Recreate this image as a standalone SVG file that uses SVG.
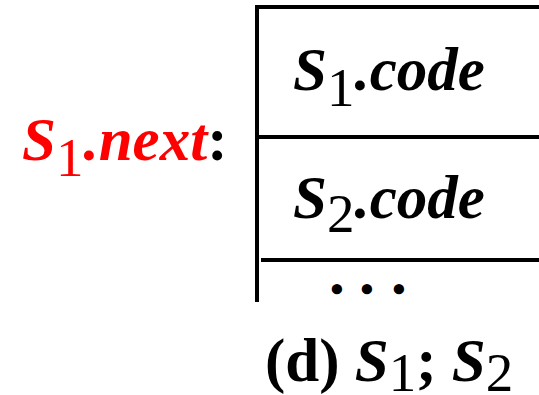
<svg xmlns="http://www.w3.org/2000/svg" width="539" height="395" viewBox="0 0 539 395">
<style>
text{font-family:'Liberation Serif','Times New Roman',Times,'DejaVu Serif',serif;font-weight:700;font-size:61px;fill:#000}
.i{font-style:italic}
.s{font-style:normal;font-weight:400;font-size:55px}
.r{fill:#ff0000}
.d{font-size:38px}
.ln{stroke:#000;stroke-width:4;fill:none}
</style>
<rect width="539" height="395" fill="#fff"/>
<g id="connectors">
<path class="ln" d="M257,5 V302"/>
<path class="ln" d="M257,7 H539"/>
<path class="ln" d="M257,137 H539"/>
<path class="ln" d="M261,260 H539"/>
</g>
<g id="label-next">
<text class="r" x="22" y="160"><tspan class="i">S</tspan><tspan class="s" dy="16">1</tspan><tspan class="i" dy="-16">.next</tspan><tspan fill="#000">:</tspan></text>
</g>
<g id="cell1">
<text x="293" y="90"><tspan class="i">S</tspan><tspan class="s" dy="16">1</tspan><tspan class="i" dy="-16">.code</tspan></text>
</g>
<g id="cell2">
<text x="293" y="218"><tspan class="i">S</tspan><tspan class="s" dy="14">2</tspan><tspan class="i" dy="-14">.code</tspan></text>
</g>
<g id="dots">
<text class="d" x="337" y="302" text-anchor="middle">•</text>
<text class="d" x="367" y="302" text-anchor="middle">•</text>
<text class="d" x="399" y="302" text-anchor="middle">•</text>
</g>
<g id="caption">
<text x="265" y="381">(d) <tspan class="i">S</tspan><tspan class="s" dy="10">1</tspan><tspan dy="-10">; </tspan><tspan class="i">S</tspan><tspan class="s" dy="10">2</tspan></text>
</g>
</svg>
